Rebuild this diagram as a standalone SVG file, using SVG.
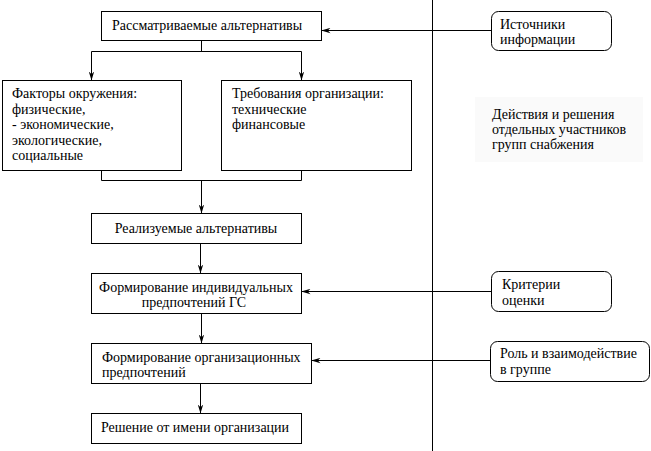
<svg xmlns="http://www.w3.org/2000/svg" width="651" height="451" viewBox="0 0 651 451">
<style>
.box{fill:#fff;stroke:#000;stroke-width:1}
.rbox{fill:#fff;stroke:#000;stroke-width:1}
.ln{fill:none;stroke:#000;stroke-width:1}
text{font-family:"Liberation Serif","Times New Roman",serif;font-size:14px;fill:#000}
.c{text-anchor:middle}
</style>
<defs>
<marker id="ah" viewBox="0 0 10 6" refX="10" refY="3" markerWidth="9" markerHeight="6" markerUnits="userSpaceOnUse" orient="auto">
<path d="M0,0 L10,3 L0,6 L3,3 z" fill="#000"/>
</marker>
</defs>
<rect width="651" height="451" fill="#fff"/>
<rect x="475" y="97" width="168" height="65" fill="#fafafa"/>
<g id="connectors">
<line class="ln" x1="432.5" y1="0" x2="432.5" y2="451"/>
<polyline class="ln" points="201.5,40.5 201.5,51.5"/>
<polyline class="ln" points="91.5,51.5 301.5,51.5"/>
<line class="ln" x1="91.5" y1="51.5" x2="91.5" y2="80.5" marker-end="url(#ah)"/>
<line class="ln" x1="301.5" y1="51.5" x2="301.5" y2="80.5" marker-end="url(#ah)"/>
<polyline class="ln" points="101.5,170.5 101.5,180.5 301.5,180.5 301.5,170.5"/>
<line class="ln" x1="201.5" y1="180.5" x2="201.5" y2="213.5" marker-end="url(#ah)"/>
<line class="ln" x1="200.5" y1="243.5" x2="200.5" y2="273.5" marker-end="url(#ah)"/>
<line class="ln" x1="201.5" y1="313.5" x2="201.5" y2="343.5" marker-end="url(#ah)"/>
<line class="ln" x1="200.5" y1="383.5" x2="200.5" y2="413.5" marker-end="url(#ah)"/>
<line class="ln" x1="491.5" y1="30.5" x2="321.5" y2="30.5" marker-end="url(#ah)"/>
<line class="ln" x1="491.5" y1="291.5" x2="301.5" y2="291.5" marker-end="url(#ah)"/>
<line class="ln" x1="490.5" y1="360.5" x2="311.5" y2="360.5" marker-end="url(#ah)"/>
</g>
<g id="n1">
<rect class="box" x="101.5" y="11.5" width="220" height="29"/>
<text x="112" y="30">Рассматриваемые альтернативы</text>
</g>
<g id="n2">
<rect class="box" x="2.5" y="80.5" width="179" height="90"/>
<text x="12" y="98">Факторы окружения:</text>
<text x="12" y="113.5">физические,</text>
<text x="12" y="129">- экономические,</text>
<text x="12" y="144.5">экологические,</text>
<text x="12" y="160">социальные</text>
</g>
<g id="n3">
<rect class="box" x="221.5" y="80.5" width="190" height="90"/>
<text x="232" y="98">Требования организации:</text>
<text x="232" y="113.5">технические</text>
<text x="232" y="129">финансовые</text>
</g>
<g id="n4">
<rect class="box" x="91.5" y="213.5" width="210" height="30"/>
<text class="c" x="196" y="233">Реализуемые альтернативы</text>
</g>
<g id="n5">
<rect class="box" x="91.5" y="273.5" width="210" height="40"/>
<text class="c" x="196" y="292">Формирование индивидуальных</text>
<text class="c" x="194" y="307">предпочтений ГС</text>
</g>
<g id="n6">
<rect class="box" x="91.5" y="343.5" width="220" height="40"/>
<text x="102" y="362">Формирование организационных</text>
<text x="102" y="377">предпочтений</text>
</g>
<g id="n7">
<rect class="box" x="91.5" y="413.5" width="210" height="30"/>
<text class="c" x="195" y="432">Решение от имени организации</text>
</g>
<g id="n8">
<rect class="rbox" x="491.5" y="11.5" width="120" height="39" rx="7"/>
<text x="500" y="29">Источники</text>
<text x="500" y="44">информации</text>
</g>
<g id="n9">
<text x="492" y="119">Действия и решения</text>
<text x="492" y="134">отдельных участников</text>
<text x="492" y="149">групп снабжения</text>
</g>
<g id="n10">
<rect class="rbox" x="491.5" y="271.5" width="120" height="40" rx="7"/>
<text x="502" y="289">Критерии</text>
<text x="502" y="305">оценки</text>
</g>
<g id="n11">
<rect class="rbox" x="490.5" y="341.5" width="159" height="40" rx="7"/>
<text x="500" y="358">Роль и взаимодействие</text>
<text x="500" y="374">в группе</text>
</g>
</svg>
